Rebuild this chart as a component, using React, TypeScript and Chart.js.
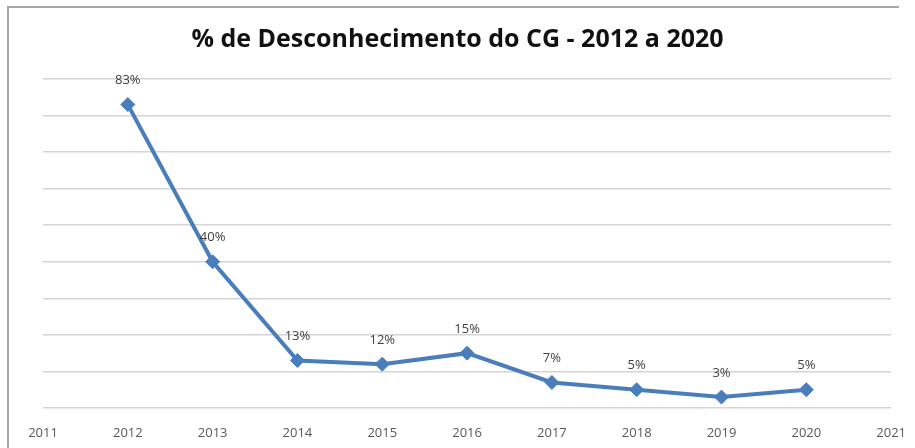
import React, { useEffect, useRef } from "react";
import { Chart, registerables } from "chart.js";

Chart.register(...registerables);

const titleText = "% de Desconhecimento do CG - 2012 a 2020";
const years = [2012, 2013, 2014, 2015, 2016, 2017, 2018, 2019, 2020];
const values = [83, 40, 13, 12, 15, 7, 5, 3, 5];
const xMin = 2011;
const xMax = 2021;
const yMin = 0;
const yMax = 90;
const yStep = 10;

const FONT = "'Open Sans', 'DejaVu Sans', sans-serif";
const LINE_COLOR = "#4a7ebb";

export default function App() {
  const ref = useRef<HTMLCanvasElement>(null);

  useEffect(() => {
    if (!ref.current) return;
    const valueLabels = {
      id: "valueLabels",
      afterDatasetsDraw(chart: any) {
        const meta = chart.getDatasetMeta(0);
        const ctx = chart.ctx;
        ctx.save();
        ctx.font = `13px ${FONT}`;
        ctx.fillStyle = "#404040";
        ctx.textAlign = "center";
        ctx.textBaseline = "middle";
        meta.data.forEach((pt: any, i: number) => {
          ctx.fillText(`${values[i]}%`, pt.x, pt.y - 24);
        });
        ctx.restore();
      },
    };

    const chart = new Chart(ref.current, {
      type: "line",
      data: {
        datasets: [
          {
            data: years.map((y, i) => ({ x: y, y: values[i] })),
            borderColor: LINE_COLOR,
            backgroundColor: LINE_COLOR,
            borderWidth: 4,
            pointStyle: "rectRot",
            pointRadius: 7,
            pointBorderWidth: 1,
            pointBorderColor: LINE_COLOR,
            pointBackgroundColor: LINE_COLOR,
            tension: 0,
            fill: false,
          },
        ],
      },
      options: {
        responsive: false,
        animation: false,
        layout: { padding: 0 },
        plugins: {
          legend: { display: false },
          tooltip: { enabled: false },
          title: {
            display: true,
            text: titleText,
            color: "#111111",
            font: { family: FONT, size: 25, weight: "bold", lineHeight: 1.2 },
            padding: { top: 25, bottom: 24 },
          },
        },
        scales: {
          x: {
            type: "linear",
            min: xMin,
            max: xMax,
            grid: { display: false },
            border: { display: false },
            ticks: {
              stepSize: 1,
              padding: 9,
              color: "#595959",
              font: { family: FONT, size: 13 },
              callback: (v: any) => String(v),
            },
            afterFit: (s: any) => {
              s.height = 40;
            },
          },
          y: {
            type: "linear",
            min: yMin,
            max: yMax,
            position: "left",
            grid: { color: "#d4d4d4", lineWidth: 1.5, drawTicks: false },
            border: { display: false },
            ticks: { display: false, stepSize: yStep },
            afterFit: (s: any) => {
              s.width = 43;
            },
          },
          yRight: {
            type: "linear",
            position: "right",
            display: true,
            grid: { display: false },
            border: { display: false },
            ticks: { display: false },
            afterFit: (s: any) => {
              s.width = 20;
            },
          },
        },
      },
      plugins: [valueLabels],
    });
    return () => chart.destroy();
  }, []);

  return (
    <div
      style={{
        position: "fixed",
        left: 0,
        top: 0,
        width: 915,
        height: 448,
        background: "#ffffff",
        overflow: "hidden",
      }}
    >
      <div
        style={{
          position: "absolute",
          left: 7,
          top: 6,
          width: 890,
          height: 470,
          borderTop: "2px solid #a6a6a6",
          borderLeft: "2px solid #a6a6a6",
        }}
      />
      <canvas
        ref={ref}
        width={915}
        height={448}
        style={{ position: "absolute", left: 0, top: 0 }}
      />
    </div>
  );
}
